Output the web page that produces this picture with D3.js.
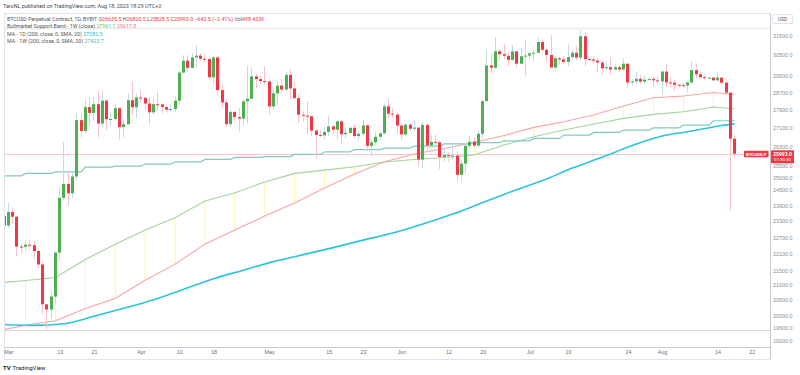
<!DOCTYPE html>
<html>
<head>
<meta charset="utf-8">
<script src="https://cdn.jsdelivr.net/npm/d3@7"></script>
<style>
  html, body { margin: 0; padding: 0; background: #fff; }
  svg { display: block; font-family: Roboto, "Liberation Sans", sans-serif; }
</style>
</head>
<body>
<svg id="chart" width="800" height="375"></svg>
<script>
// === Dane: świece dzienne BTCUSD.P (od 2023-02-28) ===
const firstDay = "2023-02-28";
const opens = [
  23490, 23140, 23650, 23470, 22360, 22350, 22430, 22410, 22200, 21720, 20360, 20190, 20620, 22140, 24200, 24750, 24380, 25050, 27450, 26970,
  28040, 27770, 28170, 27300, 28330, 27490, 27500, 27990, 27140, 27270, 28350, 28030, 28480, 28460, 28200, 27800, 28170, 28160, 28040, 27920,
  27950, 28330, 29650, 30230, 29880, 30390, 30480, 30320, 30310, 29430, 30390, 28820, 28250, 27270, 27820, 27590, 27520, 28300, 28420, 29470,
  29340, 29250, 29230, 28070, 28670, 29030, 28850, 29540, 28900, 28450, 27690, 27650, 27620, 26990, 26800, 26780, 26930, 27170, 27030, 27400,
  26830, 26890, 27110, 26750, 26850, 27220, 26330, 26480, 26720, 26870, 28070, 27740, 27700, 27210, 26820, 27250, 27070, 27120, 25750, 27240,
  26340, 26500, 26480, 25850, 25940, 25900, 25920, 25120, 25580, 26330, 26510, 26340, 26850, 28310, 30000, 29890, 30690, 30550, 30470, 30270,
  30690, 30080, 30450, 30480, 30590, 30620, 31160, 30770, 30510, 29900, 30350, 30290, 30170, 30410, 30620, 30380, 31450, 30310, 30290, 30230,
  30140, 29860, 29910, 29800, 29910, 29800, 30080, 29180, 29230, 29350, 29220, 29310, 29350, 29280, 29230, 29700, 29180, 29170, 29070, 29050,
  29040, 29180, 29770, 29570, 29430, 29400, 29410, 29280, 29410, 29170, 28700, 26635.5
];
const highs = [
  23600, 24000, 23780, 23500, 22420, 22600, 22600, 22550, 22280, 21830, 20380, 20800, 22200, 24600, 26500, 25250, 25200, 27750, 27750, 28400,
  28500, 28500, 28800, 28800, 28400, 27800, 28200, 28050, 27500, 28650, 29200, 28650, 28800, 28500, 28500, 28450, 28750, 28200, 28100, 28150,
  28500, 29750, 30500, 30500, 30600, 31000, 30600, 30550, 30400, 30500, 30450, 29100, 28400, 27900, 27850, 28000, 28400, 30000, 29900, 29600,
  29450, 29950, 29350, 28900, 29250, 29350, 29700, 29800, 29200, 28650, 27850, 28300, 27650, 27050, 27000, 27150, 27650, 27250, 27450, 27450,
  27150, 27150, 27250, 27000, 27450, 27250, 26600, 26950, 26950, 28200, 28400, 28000, 27800, 27300, 27300, 27300, 27450, 27150, 27350, 27300,
  26800, 26800, 26550, 26200, 26050, 26400, 26100, 25750, 26450, 26750, 26700, 27000, 28400, 30800, 30500, 31400, 30800, 31050, 30650, 31000,
  30700, 30850, 31280, 30650, 30800, 31400, 31300, 30900, 31500, 30450, 30400, 30450, 31050, 30800, 30950, 31800, 31650, 30400, 30450, 30350,
  30250, 30200, 30400, 30050, 30000, 30350, 30100, 29350, 29700, 29550, 29500, 29400, 29450, 29500, 29750, 30050, 29400, 29300, 29100, 29150,
  29250, 30200, 30100, 29700, 29550, 29450, 29450, 29650, 29450, 29250, 28750, 26820.5
];
const lows = [
  23000, 23050, 23200, 22000, 22100, 22200, 22250, 21920, 21600, 20050, 19550, 19900, 20400, 21900, 24100, 23900, 24200, 24900, 26700, 26850,
  27200, 27400, 26700, 27100, 27000, 27200, 27400, 26600, 26700, 27250, 27700, 27550, 28250, 27900, 27250, 27700, 27850, 27750, 27800, 27850,
  27800, 28200, 29600, 29700, 29850, 29900, 30250, 30150, 29300, 29100, 28600, 28000, 27150, 27150, 27400, 26950, 27200, 27300, 28400, 28900,
  29100, 29100, 27700, 27900, 28150, 28700, 28800, 28400, 28400, 27300, 27400, 26800, 26750, 25800, 26700, 26600, 26750, 26850, 26600, 26400,
  26650, 26850, 26650, 26550, 26800, 26100, 25900, 26350, 26600, 26800, 27550, 27550, 26850, 26600, 26750, 26950, 26950, 25450, 25400, 26150,
  26300, 26300, 25350, 25650, 25650, 25750, 24850, 24800, 25200, 26200, 26250, 26250, 26650, 28300, 29600, 29800, 30300, 30300, 29950, 30200,
  29900, 30050, 29500, 30300, 30200, 30600, 30650, 30200, 29850, 29700, 30050, 30050, 29950, 30300, 30250, 30250, 29950, 30250, 30100, 29700,
  29550, 29750, 29550, 29750, 29650, 29750, 28900, 29050, 29100, 29100, 29150, 29250, 29000, 29100, 28600, 28950, 28950, 28800, 28950, 28950,
  28700, 29100, 29400, 29350, 29300, 29350, 29250, 29250, 29100, 28700, 23700, 25828.5
];
const closes = [
  23140, 23650, 23470, 22360, 22350, 22430, 22410, 22200, 21720, 20360, 20190, 20620, 22140, 24200, 24750, 24380, 25050, 27450, 26970, 28040,
  27770, 28170, 27300, 28330, 27490, 27500, 27990, 27140, 27270, 28350, 28030, 28480, 28460, 28200, 27800, 28170, 28160, 28040, 27920, 27950,
  28330, 29650, 30230, 29880, 30390, 30480, 30320, 30310, 29430, 30390, 28820, 28250, 27270, 27820, 27590, 27520, 28300, 28420, 29470, 29340,
  29250, 29230, 28070, 28670, 29030, 28850, 29540, 28900, 28450, 27690, 27650, 27620, 26990, 26800, 26780, 26930, 27170, 27030, 27400, 26830,
  26890, 27110, 26750, 26850, 27220, 26330, 26480, 26720, 26870, 28070, 27740, 27700, 27210, 26820, 27250, 27070, 27120, 25750, 27240, 26340,
  26500, 26480, 25850, 25940, 25900, 25920, 25120, 25580, 26330, 26510, 26340, 26850, 28310, 30000, 29890, 30690, 30550, 30470, 30270, 30690,
  30080, 30450, 30480, 30590, 30620, 31160, 30770, 30510, 29900, 30350, 30290, 30170, 30410, 30620, 30380, 31450, 30310, 30290, 30230, 30140,
  29860, 29910, 29800, 29910, 29800, 30080, 29180, 29230, 29350, 29220, 29310, 29350, 29280, 29230, 29700, 29180, 29170, 29070, 29050, 29040,
  29180, 29770, 29570, 29430, 29400, 29410, 29280, 29410, 29170, 28700, 26635.5, 25993
];

// MA 1D (200 SMA) - odczyt co tydzień
const ma1dDates = [
  "2023-02-28", "2023-03-07", "2023-03-14", "2023-03-21", "2023-03-28", "2023-04-04", "2023-04-11", "2023-04-18", "2023-04-25",
  "2023-05-02", "2023-05-09", "2023-05-16", "2023-05-23", "2023-05-30", "2023-06-06", "2023-06-13", "2023-06-20", "2023-06-27",
  "2023-07-04", "2023-07-11", "2023-07-18", "2023-07-25", "2023-08-01", "2023-08-08", "2023-08-15", "2023-08-18"
];
const ma1dValues = [
  19707, 19678, 19729, 19971, 20232, 20513, 20865, 21225, 21521, 21820, 22069, 22321, 22595,
  22854, 23190, 23569, 24013, 24463, 24885, 25395, 25852, 26340, 26750, 26967, 27210, 27282.5
];

// tygodnie (niedziela) - MA 1W i Bullmarket Support Band
const weekStarts = [
  "2023-02-26", "2023-03-05", "2023-03-12", "2023-03-19", "2023-03-26", "2023-04-02", "2023-04-09", "2023-04-16", "2023-04-23",
  "2023-04-30", "2023-05-07", "2023-05-14", "2023-05-21", "2023-05-28", "2023-06-04", "2023-06-11", "2023-06-18", "2023-06-25",
  "2023-07-02", "2023-07-09", "2023-07-16", "2023-07-23", "2023-07-30", "2023-08-06", "2023-08-13"
];
const ma1wValues = [
  25080, 25178, 25243, 25437, 25478, 25562, 25657, 25757, 25840, 25873, 25966, 26076, 26170,
  26233, 26319, 26413, 26469, 26546, 26649, 26791, 26910, 27012, 27112, 27232, 27423.7
];
const bandLastDay = "2023-08-18";
const bandGreen = [
  21068, 21164, 21267, 21898, 22448, 22965, 23428, 24072, 24398, 24826, 25179, 25314, 25450,
  25645, 25750, 25833, 25938, 26362, 26719, 27012, 27276, 27529, 27709, 27826, 28038, 27961.1
];
const bandRed = [
  19491, 19682, 19826, 20223, 20554, 21174, 21732, 22448, 22965, 23493, 23994, 24585, 25150,
  25658, 25981, 26214, 26470, 26771, 27130, 27378, 27677, 28085, 28465, 28544, 28707, 28617.8
];

// osie
const yTicks = [31500, 30500, 29500, 28700, 27900, 27100, 26300, 25500, 25000, 24500, 23900,
  23300, 22700, 22100, 21500, 21000, 20500, 20000, 19600, 19200];
const xTickDates = ["2023-03-01", "2023-03-13", "2023-03-21", "2023-04-01", "2023-04-10", "2023-04-18",
  "2023-05-01", "2023-05-15", "2023-05-23", "2023-06-01", "2023-06-12", "2023-06-20", "2023-07-01",
  "2023-07-10", "2023-07-24", "2023-08-01", "2023-08-14", "2023-08-22"];
const xTickLabels = ["Mar", "13", "21", "Apr", "10", "18", "May", "15", "23", "Jun", "12", "20", "Jul",
  "10", "24", "Aug", "14", "22"];

// === Rysowanie ===
const svg = d3.select("#chart");
const UP = "#4caf50", DOWN = "#f23645";
const GRID = "#e0e3eb";

const x = d3.scaleUtc()
  .domain([new Date("2023-03-01"), new Date("2023-08-18")])
  .range([8.45, 734.7]);
const y = d3.scaleLog()
  .domain([19200, 31500])
  .range([340.5, 35.3]);

const days = d3.utcDay.range(new Date(firstDay), new Date("2023-08-19"));
const candles = days.map((d, i) => ({ date: d, o: opens[i], h: highs[i], l: lows[i], c: closes[i] }));

// ramki
const frame = svg.append("g").attr("fill", "none");
frame.append("line").attr("x1", 4).attr("x2", 770).attr("y1", 13.5).attr("y2", 13.5).attr("stroke", GRID);
frame.append("line").attr("x1", 4.5).attr("x2", 770).attr("y1", 28.5).attr("y2", 28.5).attr("stroke", "#efefef").attr("stroke-width", 2);
frame.append("line").attr("x1", 4.5).attr("x2", 4.5).attr("y1", 13.5).attr("y2", 359.5).attr("stroke", GRID);
frame.append("line").attr("x1", 770.5).attr("x2", 770.5).attr("y1", 13.5).attr("y2", 359.5).attr("stroke", "#c8cad0");
frame.append("line").attr("x1", 4.5).attr("x2", 770).attr("y1", 330.5).attr("y2", 330.5).attr("stroke", "#d6d8de");
frame.append("line").attr("x1", 4.5).attr("x2", 770).attr("y1", 347.5).attr("y2", 347.5).attr("stroke", "#c8cad0");
frame.append("line").attr("x1", 4.5).attr("x2", 770).attr("y1", 359.5).attr("y2", 359.5).attr("stroke", GRID);

svg.append("clipPath").attr("id", "plot")
  .append("rect").attr("x", 5).attr("y", 30).attr("width", 765).attr("height", 300);
const plot = svg.append("g").attr("clip-path", "url(#plot)");

// linia ceny ostatniego zamknięcia
const lastClose = closes[closes.length - 1];
plot.append("line")
  .attr("x1", 5).attr("x2", 770)
  .attr("y1", Math.round(y(lastClose)) + 0.5).attr("y2", Math.round(y(lastClose)) + 0.5)
  .attr("stroke", "#f9c8cd");

// Bullmarket Support Band
const bandDates = weekStarts.concat([bandLastDay]).map(s => new Date(s));
const band = bandDates.map((d, i) => ({ date: d, g: bandGreen[i], r: bandRed[i] }));
plot.append("g").selectAll("line")
  .data(band.slice(1, band.length - 1))
  .enter().append("line")
  .attr("x1", d => x(d.date)).attr("x2", d => x(d.date))
  .attr("y1", d => y(d.g)).attr("y2", d => y(d.r))
  .attr("stroke", "#fff3a6").attr("stroke-width", 1);
plot.append("path").datum(band)
  .attr("d", d3.line().x(d => x(d.date)).y(d => y(d.g)))
  .attr("fill", "none").attr("stroke", "#9fd49d").attr("stroke-width", 1.1);
plot.append("path").datum(band)
  .attr("d", d3.line().x(d => x(d.date)).y(d => y(d.r)))
  .attr("fill", "none").attr("stroke", "#f8a3a3").attr("stroke-width", 1.1);

// MA 1W - wartość tygodnia dla każdego dnia
const weekDates = weekStarts.map(s => new Date(s));
const ma1w = days.map(d => {
  const k = d3.bisectRight(weekDates, d) - 1;
  return { date: d, v: ma1wValues[Math.max(k, 0)] };
});
plot.append("path").datum(ma1w)
  .attr("d", d3.line().x(d => x(d.date)).y(d => y(d.v)))
  .attr("fill", "none").attr("stroke", "#7fcbbf").attr("stroke-width", 1.2);

// MA 1D
const ma1d = ma1dDates.map((s, i) => ({ date: new Date(s), v: ma1dValues[i] }));
plot.append("path").datum(ma1d)
  .attr("d", d3.line().curve(d3.curveMonotoneX).x(d => x(d.date)).y(d => y(d.v)))
  .attr("fill", "none").attr("stroke", "#2cc3da").attr("stroke-width", 1.6);

// świece
const bodyX = d => Math.round(x(d.date) - 1.5);
const cg = plot.append("g");
cg.selectAll("line.wick")
  .data(candles)
  .enter().append("line")
  .attr("class", "wick")
  .attr("x1", d => bodyX(d) + 1.5).attr("x2", d => bodyX(d) + 1.5)
  .attr("y1", d => y(d.h)).attr("y2", d => y(d.l))
  .attr("stroke", d => d.c >= d.o ? "#c4dbe4" : "#f8c3c8");
cg.selectAll("rect.body")
  .data(candles)
  .enter().append("rect")
  .attr("class", "body")
  .attr("x", bodyX)
  .attr("y", d => y(Math.max(d.o, d.c)))
  .attr("width", 3)
  .attr("height", d => Math.max(1, Math.abs(y(d.o) - y(d.c))))
  .attr("fill", d => d.c >= d.o ? UP : DOWN);

// oś Y (log)
const yAxis = svg.append("g")
  .attr("transform", "translate(770,0)")
  .call(d3.axisRight(y).tickValues(yTicks).tickFormat(d => d.toFixed(1)).tickSize(0).tickPadding(3));
yAxis.select(".domain").remove();
yAxis.selectAll("text").attr("font-size", 5.4).attr("fill", "#8a8e99").attr("font-family", null);

// oś X
const xAxis = svg.append("g")
  .attr("transform", "translate(0,347)")
  .call(d3.axisBottom(x).tickValues(xTickDates.map(s => new Date(s)))
    .tickFormat((d, i) => xTickLabels[i]).tickSize(0).tickPadding(3.5));
xAxis.select(".domain").remove();
xAxis.selectAll("text").attr("font-size", 5.4).attr("fill", "#6a6d78").attr("font-family", null);

// etykiety ceny
const py = y(lastClose);
svg.append("rect").attr("x", 744).attr("y", py - 3).attr("width", 24.5).attr("height", 6.5).attr("rx", 0.8).attr("fill", DOWN);
svg.append("text").attr("x", 756.2).attr("y", py + 0.3).attr("text-anchor", "middle").attr("dominant-baseline", "central")
  .attr("font-size", 4.4).attr("font-weight", "bold").attr("fill", "#fff").text("BTCUSD.P");
svg.append("rect").attr("x", 771).attr("y", py - 3.5).attr("width", 23).attr("height", 13).attr("fill", DOWN);
svg.append("text").attr("x", 782.5).attr("y", py + 0.2).attr("text-anchor", "middle").attr("dominant-baseline", "central")
  .attr("font-size", 5).attr("font-weight", "bold").attr("fill", "#fff").text("25993.0");
svg.append("text").attr("x", 782.5).attr("y", py + 6).attr("text-anchor", "middle").attr("dominant-baseline", "central")
  .attr("font-size", 4.4).attr("fill", "#fff").text("07:30:30");

// USD
svg.append("rect").attr("x", 772.5).attr("y", 14.5).attr("width", 20).attr("height", 9).attr("rx", 1.5)
  .attr("fill", "#fff").attr("stroke", GRID);
svg.append("text").attr("x", 782.5).attr("y", 19.2).attr("text-anchor", "middle").attr("dominant-baseline", "central")
  .attr("font-size", 4.8).attr("fill", "#555").text("USD");

// nagłówek i legenda
svg.append("text").attr("x", 3).attr("y", 5.8).attr("dominant-baseline", "central")
  .attr("font-size", 5.4).attr("fill", "#434651")
  .text("TaroNL published on TradingView.com, Aug 18, 2023 18:29 UTC+2");

const legendRows = [
  { y: 19.2, parts: [["BTCUSD Perpetual Contract, 1D, BYBIT ", "#555"], ["O", "#555"], ["26635.5 ", DOWN], ["H", "#555"], ["26820.5 ", DOWN],
    ["L", "#555"], ["25828.5 ", DOWN], ["C", "#555"], ["25993.0 ", DOWN], ["\u2212642.5 (\u22122.41%) ", DOWN], ["Vol", "#555"], ["498.433K", DOWN]] },
  { y: 26.4, parts: [["Bullmarket Support Band - 1W (close) ", "#555"], ["27961.1 ", "#6cbf6a"], ["28617.8", "#f47c7c"]] },
  { y: 33.6, parts: [["MA - 1D (200, close, 0, SMA, 20) ", "#555"], ["27282.5", "#1fbcd3"]] },
  { y: 40.8, parts: [["MA - 1W (200, close, 0, SMA, 20) ", "#555"], ["27423.7", "#4db6a6"]] }
];
legendRows.forEach(row => {
  const t = svg.append("text").attr("x", 7).attr("y", row.y).attr("dominant-baseline", "central")
    .attr("font-size", 5.3).attr("xml:space", "preserve");
  row.parts.forEach(p => t.append("tspan").attr("fill", p[1]).text(p[0]));
});

// logo
const logo = svg.append("g").attr("transform", "translate(3,367)");
logo.append("text").attr("x", 0).attr("y", 0).attr("dominant-baseline", "central")
  .attr("font-size", 6).attr("font-weight", "bold").attr("fill", "#131722").text("TV");
logo.append("text").attr("x", 9.5).attr("y", 0).attr("dominant-baseline", "central")
  .attr("font-size", 6).attr("fill", "#131722").text("TradingView");
</script>
</body>
</html>
